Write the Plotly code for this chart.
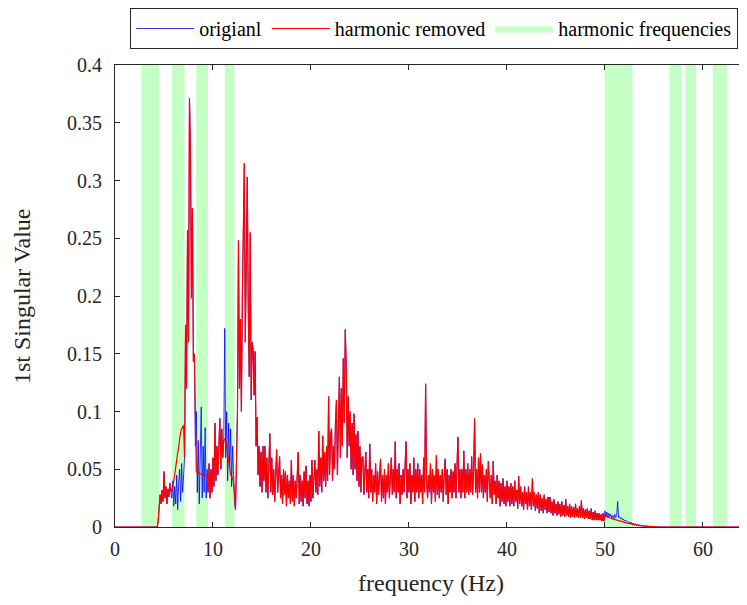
import plotly.graph_objects as go

# ---------------- data ----------------
STEP = 0.1
RED_START = 4.4  # first frequency of the noisy part (Hz)

red_vals = [
    0.004, 0.018, 0.028, 0.02, 0.032, 0.022, 0.048, 0.025, 0.035, 0.02,      # 4.4-5.3
    0.033, 0.026, 0.038, 0.03, 0.032, 0.035, 0.04, 0.046, 0.053, 0.06,       # 5.4-6.3
    0.067, 0.073, 0.078, 0.082, 0.085, 0.087, 0.088, 0.06, 0.175, 0.12,      # 6.4-7.3
    0.257, 0.16, 0.371, 0.328, 0.198, 0.276, 0.143, 0.15, 0.07, 0.048,      # 7.4-8.3
    0.047, 0.047, 0.046, 0.046, 0.046, 0.045, 0.045, 0.045, 0.045, 0.044,    # 8.4-9.3
    0.044, 0.03, 0.055, 0.025, 0.05, 0.03, 0.06, 0.035, 0.09, 0.04,          # 9.4-10.3
    0.07, 0.045, 0.08, 0.094, 0.05, 0.085, 0.06, 0.075, 0.076, 0.074,        # 10.4-11.3
    0.07, 0.063, 0.055, 0.048, 0.045, 0.044, 0.042, 0.038, 0.03, 0.015,      # 11.4-12.3
    0.06, 0.1, 0.248, 0.12, 0.18, 0.1, 0.2, 0.263, 0.315, 0.16,              # 12.4-13.3
    0.24, 0.303, 0.188, 0.13, 0.255, 0.11, 0.16, 0.153, 0.114, 0.152,        # 13.4-14.3
    0.07, 0.095, 0.045, 0.07, 0.035, 0.065, 0.03, 0.07, 0.04, 0.07,          # 14.4-15.3
    0.03, 0.06, 0.025, 0.055, 0.081, 0.03, 0.06, 0.028, 0.05, 0.022,         # 15.4-16.3
    0.055, 0.067, 0.03, 0.05, 0.061, 0.025, 0.045, 0.02, 0.05, 0.028,        # 16.4-17.3
    0.048, 0.018, 0.045, 0.025, 0.04, 0.02, 0.058, 0.022, 0.045, 0.018,      # 17.4-18.3
    0.04, 0.025, 0.05, 0.065, 0.02, 0.045, 0.022, 0.04, 0.018, 0.048,        # 18.4-19.3
    0.025, 0.053, 0.02, 0.04, 0.018, 0.045, 0.022, 0.058, 0.025, 0.045,      # 19.4-20.3
    0.058, 0.03, 0.05, 0.028, 0.083, 0.035, 0.06, 0.03, 0.079, 0.04,         # 20.4-21.3
    0.065, 0.035, 0.07, 0.04, 0.113, 0.045, 0.08, 0.085, 0.04, 0.07,         # 21.4-22.3
    0.05, 0.09, 0.11, 0.045, 0.085, 0.13, 0.06, 0.12, 0.07, 0.146,           # 22.4-23.3
    0.09, 0.171, 0.14, 0.06, 0.113, 0.07, 0.1, 0.05, 0.09, 0.045,            # 23.4-24.3
    0.098, 0.05, 0.08, 0.04, 0.083, 0.035, 0.07, 0.03, 0.06, 0.061,          # 24.4-25.3
    0.028, 0.055, 0.065, 0.03, 0.05, 0.025, 0.072, 0.03, 0.05, 0.022,        # 25.4-26.3
    0.045, 0.03, 0.055, 0.02, 0.048, 0.028, 0.05, 0.059, 0.022, 0.045,       # 26.4-27.3
    0.025, 0.05, 0.02, 0.045, 0.03, 0.055, 0.025, 0.05, 0.06, 0.028,         # 27.4-28.3
    0.05, 0.03, 0.074, 0.025, 0.05, 0.03, 0.055, 0.02, 0.045, 0.028,         # 28.4-29.3
    0.05, 0.03, 0.06, 0.074, 0.025, 0.05, 0.03, 0.055, 0.02, 0.045,          # 29.4-30.3
    0.03, 0.06, 0.022, 0.05, 0.03, 0.055, 0.025, 0.05, 0.03, 0.045,          # 30.4-31.3
    0.02, 0.06, 0.03, 0.124, 0.04, 0.025, 0.045, 0.03, 0.055, 0.02,          # 31.4-32.3
    0.05, 0.03, 0.045, 0.022, 0.062, 0.028, 0.05, 0.025, 0.045, 0.03,        # 32.4-33.3
    0.05, 0.022, 0.045, 0.059, 0.028, 0.05, 0.02, 0.045, 0.03, 0.05,         # 33.4-34.3
    0.025, 0.048, 0.03, 0.055, 0.025, 0.05, 0.078, 0.03, 0.05, 0.025,        # 34.4-35.3
    0.05, 0.03, 0.066, 0.025, 0.05, 0.03, 0.055, 0.028, 0.05, 0.03,          # 35.4-36.3
    0.061, 0.028, 0.05, 0.094, 0.03, 0.05, 0.025, 0.06, 0.03, 0.064,         # 36.4-37.3
    0.03, 0.054, 0.025, 0.045, 0.03, 0.05, 0.022, 0.057, 0.04, 0.025,        # 37.4-38.3
    0.045, 0.02, 0.057, 0.028, 0.04, 0.02, 0.045, 0.025, 0.04, 0.018,        # 38.4-39.3
    0.038, 0.022, 0.042, 0.02, 0.035, 0.018, 0.04, 0.022, 0.035, 0.018,      # 39.4-40.3
    0.038, 0.02, 0.035, 0.018, 0.04, 0.022, 0.032, 0.016, 0.044, 0.02,       # 40.4-41.3
    0.035, 0.018, 0.03, 0.015, 0.035, 0.02, 0.03, 0.015, 0.035, 0.018,       # 41.4-42.3
    0.03, 0.015, 0.042, 0.018, 0.03, 0.014, 0.028, 0.016, 0.03, 0.012,       # 42.4-43.3
    0.028, 0.014, 0.025, 0.012, 0.028, 0.015, 0.024, 0.012, 0.026, 0.013,    # 43.4-44.3
    0.026, 0.012, 0.022, 0.01, 0.024, 0.012, 0.02, 0.01, 0.022, 0.011,       # 44.4-45.3
    0.02, 0.009, 0.022, 0.01, 0.019, 0.009, 0.024, 0.01, 0.018, 0.009,       # 45.4-46.3
    0.02, 0.008, 0.018, 0.009, 0.017, 0.008, 0.02, 0.009, 0.016, 0.008,      # 46.4-47.3
    0.018, 0.008, 0.023, 0.008, 0.016, 0.007, 0.015, 0.008, 0.016, 0.007,    # 47.4-48.3
    0.014, 0.007, 0.016, 0.006, 0.013, 0.006, 0.014, 0.006, 0.012, 0.006,    # 48.4-49.3
    0.012, 0.006, 0.011, 0.005, 0.012, 0.005, 0.01, 0.0095, 0.009, 0.0085,   # 49.4-50.3
    0.008, 0.0078, 0.0075, 0.0072, 0.007, 0.0067, 0.0064, 0.006, 0.0057, 0.0055,  # 50.4-51.3
    0.0052, 0.005, 0.0048, 0.0046, 0.0044, 0.0042, 0.004, 0.0038, 0.0036, 0.0034, # 51.4-52.3
    0.0032, 0.003, 0.0028, 0.0035, 0.002, 0.003, 0.0018, 0.0025, 0.0015, 0.002,   # 52.4-53.3
    0.0012, 0.0018, 0.001, 0.0015, 0.0008, 0.0012, 0.0006, 0.001, 0.0005, 0.0008, # 53.4-54.3
    0.0004, 0.0006, 0.0003, 0.0005, 0.0002, 0.0004, 0.0002, 0.0003, 0.0001, 0.0002, # 54.4-55.3
]

# flat (zero) parts before and after the noisy part
lead_freq = [0.0, 4.3]
lead_vals = [0.0, 0.0]
tail_freq = [56.0, 64.5]
tail_vals = [0.0, 0.0]

# original signal differs from the harmonic-removed one only inside the bands
blue_band_starts = [5.8, 8.3, 11.2, 50.0]
blue_band_vals = [
    [0.025, 0.04, 0.018, 0.035, 0.02, 0.045, 0.015, 0.038, 0.05, 0.022, 0.055, 0.03, 0.045],
    [0.1, 0.03, 0.075, 0.02, 0.06, 0.104, 0.025, 0.07, 0.03, 0.086, 0.025, 0.05],
    [0.172, 0.06, 0.1, 0.04, 0.09, 0.05, 0.085, 0.035, 0.07, 0.03, 0.02],
    [0.014, 0.009, 0.013, 0.008, 0.012, 0.009, 0.011, 0.008, 0.01, 0.007, 0.011, 0.008,
     0.01, 0.022, 0.008, 0.009, 0.007, 0.008, 0.006, 0.007, 0.005, 0.006, 0.005, 0.005,
     0.004, 0.004, 0.004, 0.0035, 0.003],
]

# harmonic frequency bands (Hz)
band_lo = [2.7, 5.8, 8.3, 11.2, 50.0, 56.6, 58.2, 61.0]
band_hi = [4.5, 7.1, 9.5, 12.2, 52.8, 57.8, 59.3, 62.5]

y_ticks = [0, 0.05, 0.1, 0.15, 0.2, 0.25, 0.3, 0.35, 0.4]
y_tick_text = ["0", "0.05", "0.1", "0.15", "0.2", "0.25", "0.3", "0.35", "0.4"]
x_ticks = [0, 10, 20, 30, 40, 50, 60]

# ---------------- build series ----------------
noisy_freq = [round(RED_START + STEP * i, 2) for i in range(len(red_vals))]
red_x = lead_freq + noisy_freq + tail_freq
red_y = lead_vals + red_vals + tail_vals

blue_y = list(red_y)
for start, vals in zip(blue_band_starts, blue_band_vals):
    i0 = len(lead_freq) + int(round((start - RED_START) / STEP))
    for k, v in enumerate(vals):
        blue_y[i0 + k] = v

band_x, band_y = [], []
for lo, hi in zip(band_lo, band_hi):
    band_x += [lo, hi, hi, lo, lo, None]
    band_y += [0, 0, 0.4, 0.4, 0, None]

FONT = "'Liberation Serif', 'Times New Roman', serif"
INK = "#262626"

fig = go.Figure()
fig.add_trace(go.Scatter(
    x=band_x, y=band_y, mode="lines", fill="toself",
    fillcolor="rgb(196,255,196)", line=dict(width=0, color="rgb(196,255,196)"),
    name="harmonic frequencies", legendrank=3, hoverinfo="skip"))
fig.add_trace(go.Scatter(
    x=red_x, y=blue_y, mode="lines", line=dict(color="#0000ff", width=0.8),
    name="origianl", legendrank=1))
fig.add_trace(go.Scatter(
    x=red_x, y=red_y, mode="lines", line=dict(color="#ff0000", width=1.2),
    name="harmonic removed", legendrank=2))

# page body adds an 8 px margin, so the figure is 8 px smaller than the window
fig.update_layout(
    width=739, height=597,
    margin=dict(l=107, r=0, t=57, b=78),
    paper_bgcolor="white", plot_bgcolor="white",
    font=dict(family=FONT, size=20, color=INK),
    showlegend=True,
    legend=dict(
        orientation="h", xref="container", yref="container",
        x=0.988, xanchor="right", y=1.0, yanchor="top",
        bordercolor=INK, borderwidth=1, bgcolor="white",
        font=dict(family=FONT, size=20, color="black"),
        itemwidth=58, traceorder="normal",
    ),
    xaxis=dict(
        range=[0, 64.5], tickvals=x_ticks, ticks="inside", ticklen=5,
        tickcolor=INK, showline=True, linecolor=INK, linewidth=1,
        mirror="ticks", showgrid=False, zeroline=False, automargin=False,
        ticklabelstandoff=4,
        tickfont=dict(size=20, family=FONT, color=INK),
    ),
    yaxis=dict(
        range=[0, 0.4], tickvals=y_ticks, ticktext=y_tick_text, ticks="inside",
        ticklen=5, tickcolor=INK, showline=True, linecolor=INK,
        linewidth=1, showgrid=False, zeroline=False, automargin=False,
        ticklabelstandoff=8,
        tickfont=dict(size=20, family=FONT, color=INK),
    ),
    annotations=[
        dict(text="frequency (Hz)", xref="paper", yref="paper", x=0.5, y=-0.121,
             xanchor="center", yanchor="middle", showarrow=False,
             font=dict(size=24, family=FONT, color=INK)),
        dict(text="1st Singular Value", xref="paper", yref="paper", x=-0.147, y=0.5,
             xanchor="center", yanchor="middle", showarrow=False, textangle=-90,
             font=dict(size=24, family=FONT, color=INK)),
    ],
)

fig.write_html("out.html")
